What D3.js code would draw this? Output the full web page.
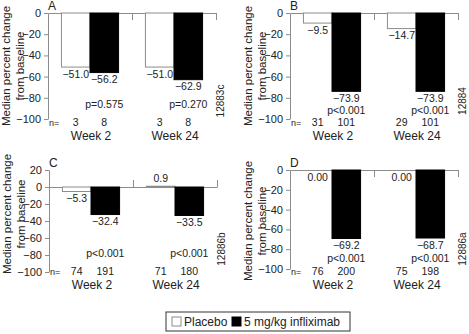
<!DOCTYPE html>
<html>
<head>
<meta charset="utf-8">
<script src="https://cdn.jsdelivr.net/npm/d3@7"></script>
<style>
  body { margin: 0; background: #fff; }
  svg { font-family: "Liberation Sans", Arial, sans-serif; }
  .axis path, .axis line { stroke: #8c8c8c; }
  .axis text { font-size: 11px; fill: #222; }
</style>
</head>
<body>
<svg id="chart-svg" width="469" height="334"></svg>
<script>
// values
const weeks = ['Week 2', 'Week 24'];
const treatments = ['Placebo', '5 mg/kg infliximab'];

const placeboA = [-51.0, -51.0];
const inflixA = [-56.2, -62.9];
const nPlaceboA = [3, 3];
const nInflixA = [8, 8];
const pA = ['p=0.575', 'p=0.270'];

const placeboB = [-9.5, -14.7];
const inflixB = [-73.9, -73.9];
const nPlaceboB = [31, 29];
const nInflixB = [101, 101];
const pB = ['p<0.001', 'p<0.001'];

const placeboC = [-5.3, 0.9];
const inflixC = [-32.4, -33.5];
const nPlaceboC = [74, 71];
const nInflixC = [191, 180];
const pC = ['p<0.001', 'p<0.001'];

const placeboD = [0.00, 0.00];
const placeboDText = ['0.00', '0.00'];
const inflixD = [-69.2, -68.7];
const nPlaceboD = [76, 75];
const nInflixD = [200, 198];
const pD = ['p<0.001', 'p<0.001'];

const yTicksAB = [0, -20, -40, -60, -80, -100];
const yTicksC = [20, 0, -20, -40, -60, -80, -100];
const codes = ['12883c', '12884', '12886b', '12886a'];

const fmt = v => d3.format('.1f')(v).replace('-', '\u2212');

let svg = d3.select('#chart-svg');

function drawPanel(p) {

    let g = svg.append('g');

    let y = d3.scaleLinear().domain(p.domain).range([p.bottom, p.top]);
    let x0 = d3.scaleBand().domain(weeks).range([p.x, p.x + 168]);
    let x1 = d3.scaleBand().domain(treatments).range([0, x0.bandwidth()]).paddingOuter(0.47);
    let edge = d3.scaleLinear().domain([0, 2]).range([p.x, p.x + 168]);

    // y axis
    g.append('g').attr('class', 'axis')
        .attr('transform', 'translate(' + p.x + ',0)')
        .call(d3.axisLeft(y).tickValues(p.ticks).tickSize(4).tickSizeOuter(0).tickFormat(d => String(d).replace('-', '\u2212')));

    // zero line with group ticks
    let zeroAxis = p.ticksUp ? d3.axisTop(edge) : d3.axisBottom(edge);
    g.append('g').attr('class', 'axis')
        .attr('transform', 'translate(0,' + y(0) + ')')
        .call(zeroAxis.tickValues([1, 2]).tickSize(7).tickSizeOuter(0).tickFormat(''));

    let rows = weeks.map((w, i) => ([
        {week: w, t: treatments[0], v: p.placebo[i], text: p.placeboText ? p.placeboText[i] : fmt(p.placebo[i]), n: p.nPlacebo[i]},
        {week: w, t: treatments[1], v: p.inflix[i], text: fmt(p.inflix[i]), n: p.nInflix[i]}
    ])).flat();

    g.selectAll('rect.bar').data(rows).enter().append('rect')
        .attr('class', 'bar')
        .attr('x', d => x0(d.week) + x1(d.t))
        .attr('width', x1.bandwidth())
        .attr('y', d => Math.min(y(0), y(d.v)))
        .attr('height', d => Math.abs(y(d.v) - y(0)))
        .attr('fill', d => d.t === treatments[0] ? '#fff' : '#000')
        .attr('stroke', d => d.t === treatments[0] ? '#8c8c8c' : '#000')
        .attr('stroke-width', 1);

    let cx = d => x0(d.week) + x1(d.t) + x1.bandwidth() / 2;

    g.selectAll('text.val').data(rows).enter().append('text')
        .attr('class', 'val')
        .attr('x', cx)
        .attr('y', d => d.v > 0 ? y(d.v) - 4 : y(d.v) + 10.5)
        .attr('text-anchor', 'middle')
        .attr('font-size', 10.5).attr('fill', '#222')
        .text(d => d.text);

    g.selectAll('text.n').data(rows).enter().append('text')
        .attr('class', 'n')
        .attr('x', cx)
        .attr('y', p.nRow)
        .attr('text-anchor', 'middle')
        .attr('font-size', 10.5).attr('fill', '#222')
        .text(d => d.n);

    g.append('text')
        .attr('x', p.x + 1).attr('y', p.nRow)
        .attr('font-size', 9).attr('fill', '#222')
        .text('n=');

    g.selectAll('text.p').data(weeks).enter().append('text')
        .attr('class', 'p')
        .attr('x', w => x0(w) + x1(treatments[1]) + x1.bandwidth() / 2)
        .attr('y', p.pRow)
        .attr('text-anchor', 'middle')
        .attr('font-size', 10.5).attr('fill', '#222')
        .text((w, i) => p.pvals[i]);

    g.selectAll('text.week').data(weeks).enter().append('text')
        .attr('class', 'week')
        .attr('x', w => x0(w) + x0.bandwidth() / 2 + 1)
        .attr('y', p.weekRow)
        .attr('text-anchor', 'middle')
        .attr('font-size', 12).attr('fill', '#222')
        .text(w => w);

    g.append('text')
        .attr('x', p.x).attr('y', p.top - 3)
        .attr('font-size', 12).attr('fill', '#222')
        .text(p.id);

    let ly = p.labelY;
    g.append('text')
        .attr('transform', 'translate(' + (p.x - 38) + ',' + ly + ') rotate(-90)')
        .attr('text-anchor', 'middle')
        .attr('font-size', 11.5).attr('fill', '#222')
        .text('Median percent change');
    g.append('text')
        .attr('transform', 'translate(' + (p.x - 24) + ',' + ly + ') rotate(-90)')
        .attr('text-anchor', 'middle')
        .attr('font-size', 11.5).attr('fill', '#222')
        .text('from baseline');

    g.append('text')
        .attr('transform', 'translate(' + (p.x + 176) + ',' + p.codeY + ') rotate(-90)')
        .attr('text-anchor', 'middle')
        .attr('font-size', 10).attr('fill', '#222')
        .text(p.code);
}

drawPanel({id: 'A', x: 48, top: 13, bottom: 119, domain: [-100, 0], ticks: yTicksAB,
    placebo: placeboA, inflix: inflixA, nPlacebo: nPlaceboA, nInflix: nInflixA, pvals: pA,
    pRow: 108, nRow: 126, weekRow: 140, labelY: 66, code: codes[0], codeY: 101});
drawPanel({id: 'B', x: 290, top: 13, bottom: 119, domain: [-100, 0], ticks: yTicksAB,
    placebo: placeboB, inflix: inflixB, nPlacebo: nPlaceboB, nInflix: nInflixB, pvals: pB,
    pRow: 114, nRow: 126, weekRow: 140, labelY: 66, code: codes[1], codeY: 101});
drawPanel({id: 'C', x: 49, top: 170, bottom: 272, domain: [-100, 20], ticks: yTicksC, ticksUp: true,
    placebo: placeboC, inflix: inflixC, nPlacebo: nPlaceboC, nInflix: nInflixC, pvals: pC,
    pRow: 257, nRow: 275, weekRow: 289, labelY: 214, code: codes[2], codeY: 249});
drawPanel({id: 'D', x: 290, top: 170, bottom: 269, domain: [-100, 0], ticks: yTicksAB,
    placebo: placeboD, placeboText: placeboDText, inflix: inflixD, nPlacebo: nPlaceboD, nInflix: nInflixD, pvals: pD,
    pRow: 262, nRow: 275, weekRow: 289, labelY: 221, code: codes[3], codeY: 249});

// legend
let legend = svg.append('g').attr('transform', 'translate(166,312)');
legend.append('rect').attr('x', 0).attr('y', 0).attr('width', 184).attr('height', 19)
    .attr('fill', '#fff').attr('stroke', '#333');
let items = legend.selectAll('g.item').data(treatments).enter().append('g')
    .attr('transform', (d, i) => 'translate(' + (i === 0 ? 6 : 66) + ',0)');
items.append('rect').attr('x', 0).attr('y', 5).attr('width', 9).attr('height', 9)
    .attr('fill', (d, i) => i === 0 ? '#fff' : '#000').attr('stroke', (d, i) => i === 0 ? '#8c8c8c' : '#000');
items.append('text').attr('x', 12).attr('y', 14).attr('font-size', 12).attr('fill', '#222').text(d => d);
</script>
</body>
</html>
